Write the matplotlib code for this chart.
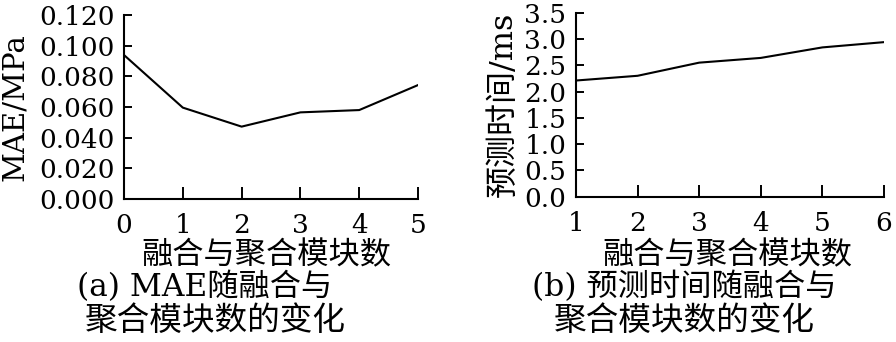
import matplotlib
matplotlib.use("Agg")
import matplotlib.pyplot as plt

# (a) MAE vs number of fusion/aggregation modules
mae_x = [0, 1, 2, 3, 4, 5]
mae_y = [0.0939, 0.0596, 0.0472, 0.0565, 0.0580, 0.0743]

# (b) prediction time vs number of modules
time_x = [1, 2, 3, 4, 5, 6]
time_y = [2.21, 2.30, 2.55, 2.64, 2.84, 2.94]

mae_ticks = [0.0, 0.02, 0.04, 0.06, 0.08, 0.10, 0.12]
time_ticks = [0.0, 0.5, 1.0, 1.5, 2.0, 2.5, 3.0, 3.5]

plt.rcParams['font.family'] = ['DejaVu Serif', 'Noto Sans CJK SC']

fig = plt.figure(figsize=(8.96, 3.42), dpi=100)
ax1 = fig.add_axes([124/896, 1-199/342, 294/896, 184/342])
ax2 = fig.add_axes([576/896, 1-196.7/342, 308/896, 184/342])


def style(ax):
    for s in ['top', 'right']:
        ax.spines[s].set_visible(False)
    for s in ['left', 'bottom']:
        ax.spines[s].set_linewidth(1.5)
    ax.tick_params(axis='both', direction='in', width=1.4, labelsize=19, pad=7)
    ax.tick_params(axis='x', length=8.6, pad=10)
    ax.tick_params(axis='y', length=5.8)


ax1.plot(mae_x, mae_y, color='black', lw=1.5)
ax1.set_xlim(0, 5)
ax1.set_ylim(0, 0.12)
ax1.set_xticks(mae_x)
ax1.set_yticks(mae_ticks)
ax1.set_yticklabels(["%.3f" % v for v in mae_ticks])
style(ax1)
ax1.set_ylabel("MAE/MPa", fontsize=21, va='center')
ax1.yaxis.set_label_coords(-0.371, 0.5)
ax1.set_xlabel("融合与聚合模块数", fontsize=22.5, va='center')
ax1.xaxis.set_label_coords(0.483, -0.31)

ax2.plot(time_x, time_y, color='black', lw=1.5)
ax2.set_xlim(1, 6)
ax2.set_ylim(0, 3.5)
ax2.set_xticks(time_x)
ax2.set_yticks(time_ticks)
ax2.set_yticklabels(["%.1f" % v for v in time_ticks])
style(ax2)
ax2.set_ylabel("预测时间/ms", fontsize=23, va='center')
ax2.yaxis.set_label_coords(-0.237, 0.5)
ax2.set_xlabel("融合与聚合模块数", fontsize=22.5, va='center')
ax2.xaxis.set_label_coords(0.49, -0.322)

fig.text(205/896, 1-287/342, "(a) MAE随融合与", fontsize=22.5, ha='center', va='center')
fig.text(215/896, 1-321/342, "聚合模块数的变化", fontsize=23.5, ha='center', va='center')
fig.text(684/896, 1-287/342, "(b) 预测时间随融合与", fontsize=22.5, ha='center', va='center')
fig.text(684/896, 1-321/342, "聚合模块数的变化", fontsize=23.5, ha='center', va='center')

fig.savefig("out.png", dpi=100)
